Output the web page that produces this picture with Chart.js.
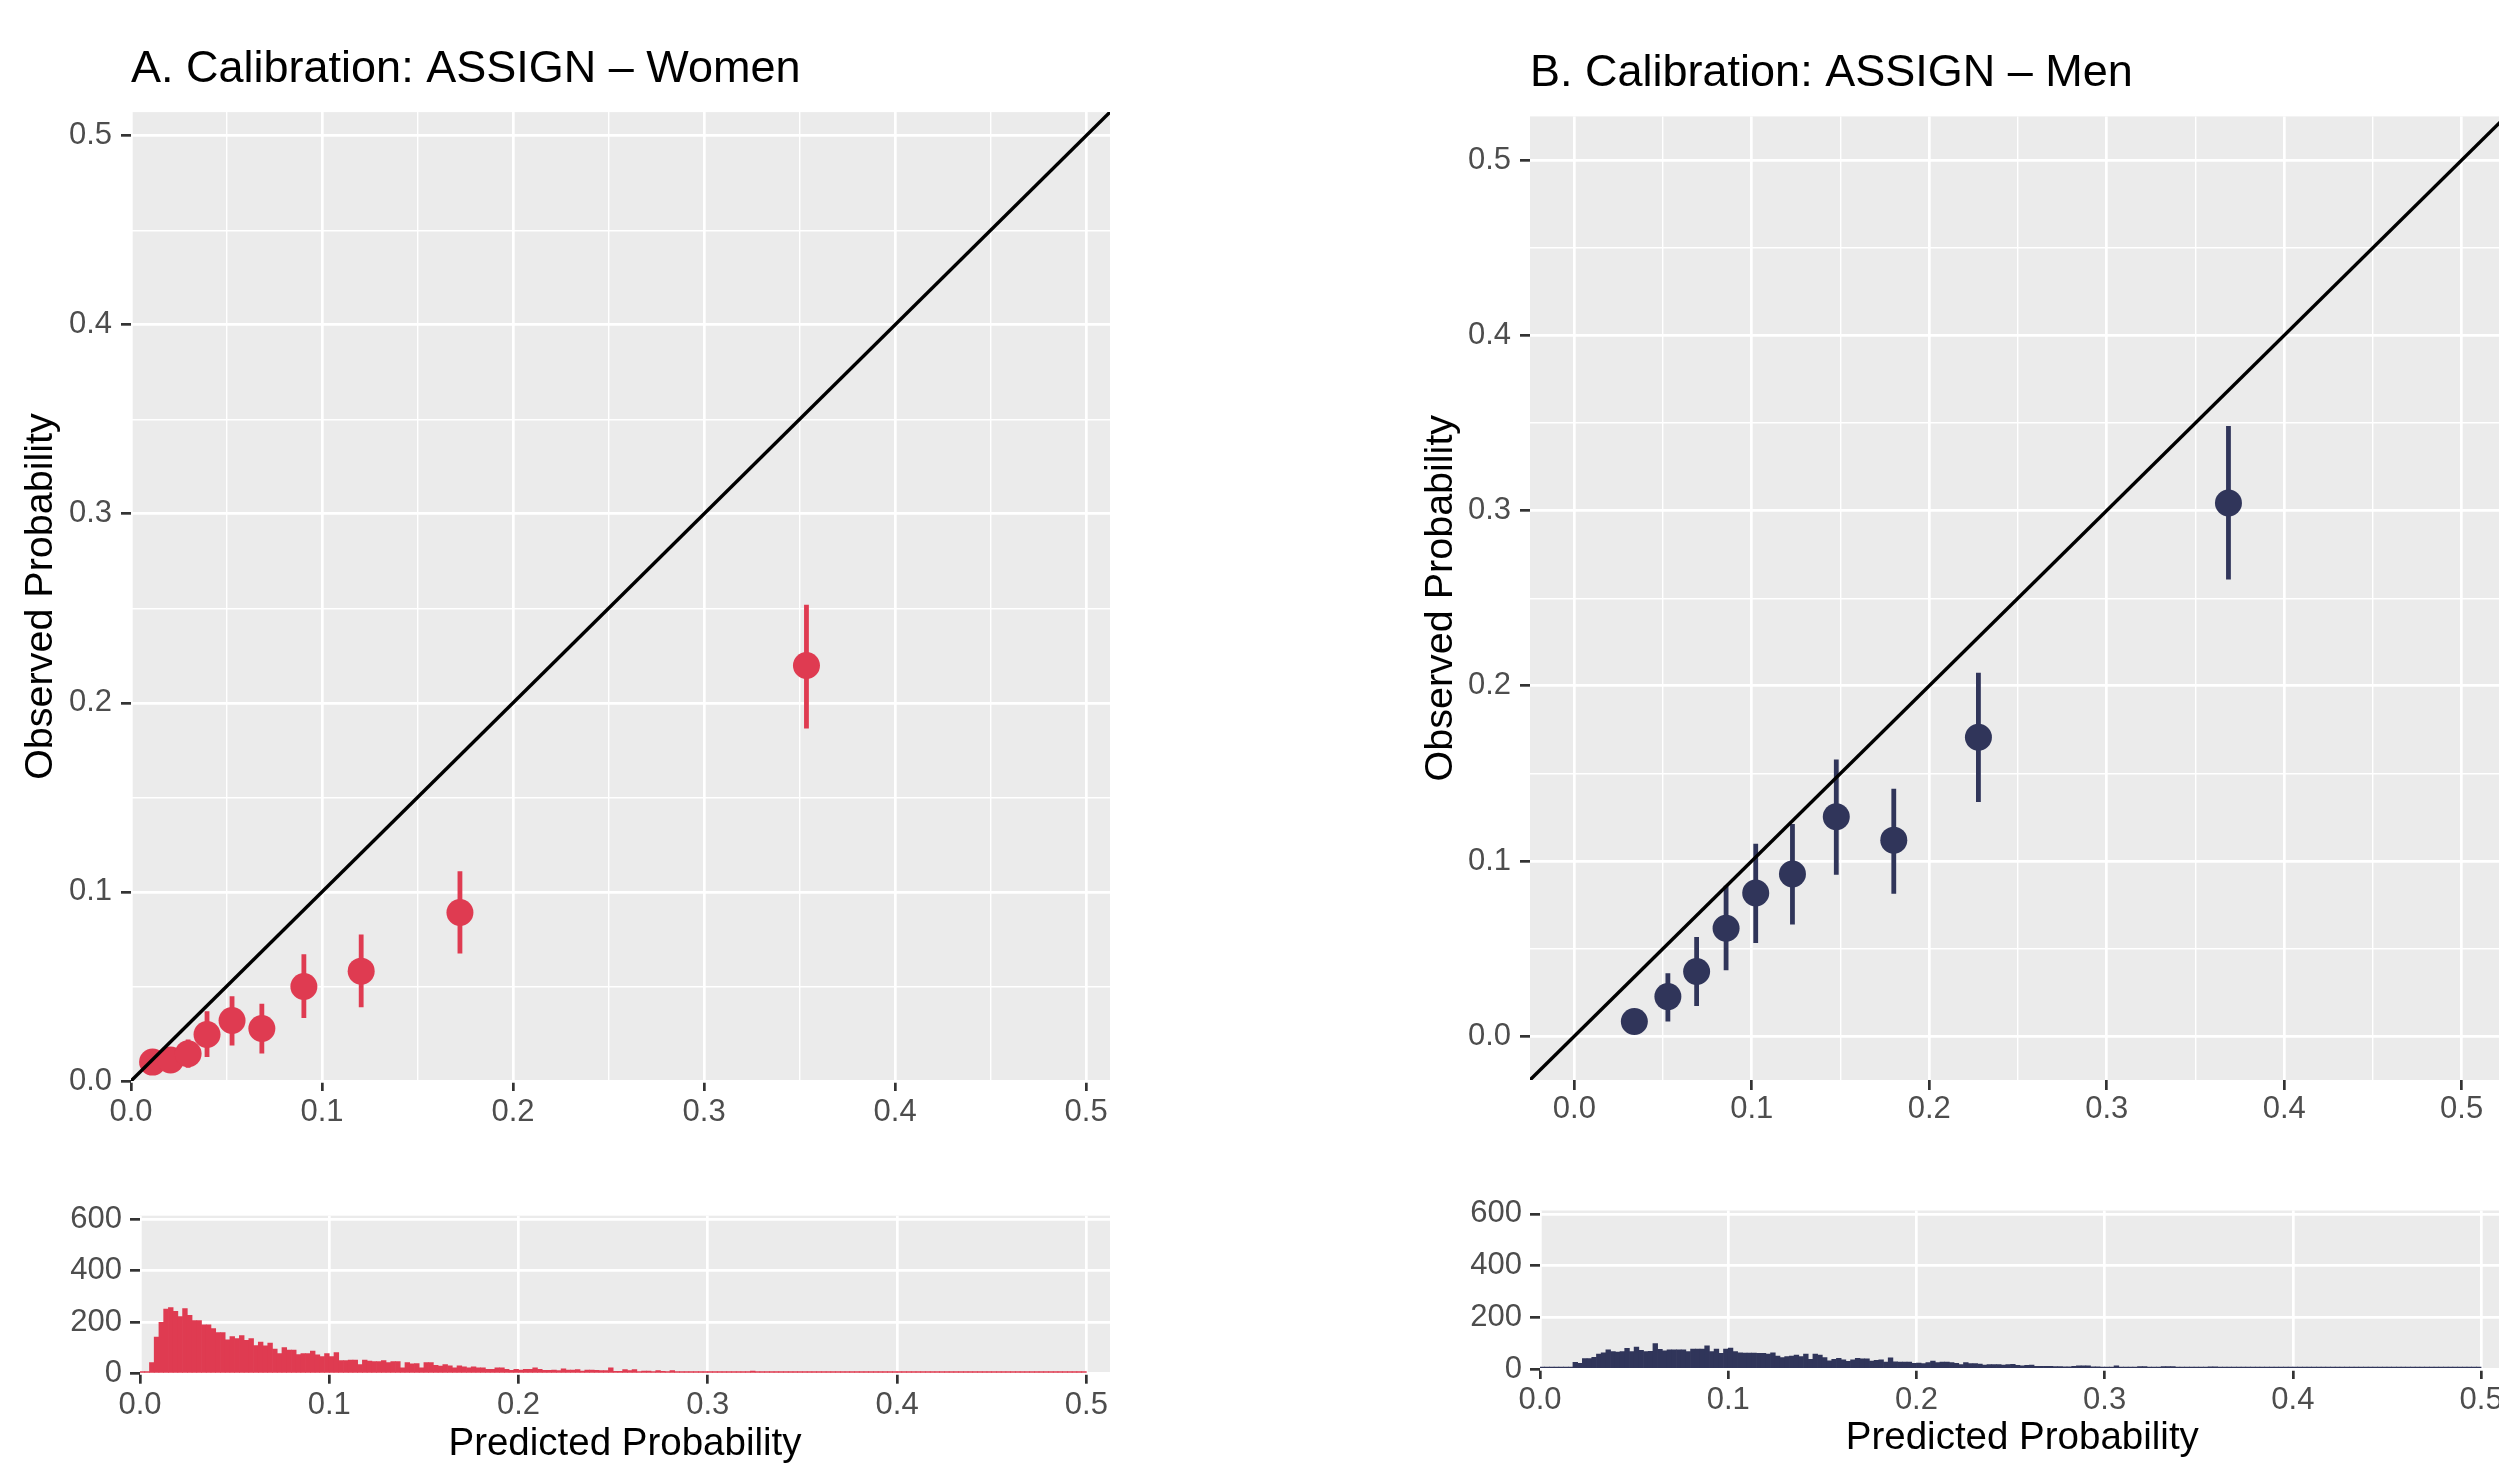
<!DOCTYPE html>
<html lang="en">
<head>
  <meta charset="UTF-8" />
  <title>Calibration: ASSIGN</title>
  <script src="https://cdn.jsdelivr.net/npm/chart.js"></script>
  <style>
    html, body { margin: 0; padding: 0; width: 2499px; height: 1467px; overflow: hidden; background: #fff; }
    .box { position: absolute; }
  </style>
</head>
<body>

<div class="box" style="left:0;top:0;width:1250px;height:1150px"><canvas id="calA"></canvas></div>
<div class="box" style="left:1250px;top:0;width:1300px;height:1150px"><canvas id="calB"></canvas></div>
<div class="box" style="left:0;top:1150px;width:1250px;height:317px"><canvas id="histA"></canvas></div>
<div class="box" style="left:1250px;top:1150px;width:1300px;height:317px"><canvas id="histB"></canvas></div>

<script>
// calibration points, women
const predA = [0.0113, 0.0207, 0.0299, 0.0398, 0.0529, 0.0685, 0.0905, 0.1205, 0.1722, 0.3536];
const obsA  = [0.0100, 0.0111, 0.0144, 0.0246, 0.0320, 0.0278, 0.0500, 0.0581, 0.0891, 0.2198];
const loA   = [0.0060, 0.0070, 0.0070, 0.0127, 0.0188, 0.0146, 0.0333, 0.0390, 0.0674, 0.1864];
const hiA   = [0.0140, 0.0160, 0.0220, 0.0369, 0.0448, 0.0408, 0.0670, 0.0775, 0.1109, 0.2519];

// calibration points, men
const predB = [0.0338, 0.0527, 0.0689, 0.0855, 0.1022, 0.1229, 0.1476, 0.1800, 0.2277, 0.3686];
const obsB  = [0.0084, 0.0226, 0.0369, 0.0616, 0.0817, 0.0926, 0.1253, 0.1119, 0.1706, 0.3043];
const loB   = [0.0030, 0.0084, 0.0172, 0.0377, 0.0532, 0.0637, 0.0922, 0.0813, 0.1337, 0.2607];
const hiB   = [0.0140, 0.0360, 0.0566, 0.0859, 0.1098, 0.1211, 0.1580, 0.1412, 0.2075, 0.3483];

// histogram counts, bins of width 0.0025 from 0 to 0.5
const BIN_W = 0.0025;
const countsA = [
  3,5,43,142,199,251,257,242,222,253, 226,206,206,190,190,175,160,160,131,144,
  136,148,129,136,109,123,108,119,96,78, 101,92,92,74,78,78,88,73,66,78,
  66,82,51,51,53,53,35,53,49,47, 47,51,43,47,47,23,43,38,39,23,
  43,43,32,30,35,31,23,31,27,23, 27,23,23,17,17,23,23,17,13,17,
  14,17,17,23,17,13,13,14,12,19, 14,14,16,10,14,14,13,12,12,23,
  9,9,16,12,16,8,10,10,8,12, 9,6,12,5,8,8,8,6,4,4,
  4,4,2,6,6,2,2,6,2,10, 2,8,2,2,2,2,5,2,6,6,
  6,6,6,8,2,2,5,5,5,5, 5,1,1,5,5,1,5,1,1,5,
  1,1,1,1,4,1,1,1,1,1, 1,1,1,1,1,1,3,1,1,1,
  1,1,3,1,3,1,1,1,1,1, 1,3,1,1,1,1,1,1,1,1
];
const countsB = [
  0,0,0,0,0,0,5,26,22,40, 40,45,58,63,74,67,65,67,80,67,
  85,72,67,68,98,76,70,74,74,74, 74,67,77,77,77,90,67,77,61,77,
  81,67,63,62,62,62,61,61,58,63, 50,44,48,50,54,48,58,37,58,54,
  44,32,37,41,35,30,35,41,39,39, 31,34,35,27,43,28,27,27,27,22,
  23,21,25,31,25,27,27,25,22,17, 25,21,21,19,15,17,17,17,15,17,
  18,14,12,14,15,10,10,10,10,9, 9,8,8,10,12,12,12,8,8,6,
  4,4,12,6,6,6,6,9,9,5, 5,5,9,9,9,6,6,5,5,5,
  4,4,8,8,6,6,6,6,6,6, 6,6,6,6,5,5,5,5,5,4,
  1,1,6,6,3,3,3,3,6,6, 3,3,3,3,6,6,6,3,3,6,
  3,3,3,3,6,1,1,1,1,1, 1,1,1,1,1,1,1,1,1,1
];

const MAIN_TICKS = [0, 0.05, 0.1, 0.15, 0.2, 0.25, 0.3, 0.35, 0.4, 0.45, 0.5];
const HIST_X_TICKS = [0, 0.1, 0.2, 0.3, 0.4, 0.5];
const HIST_Y_TICKS = [0, 200, 400, 600];
const IDENTITY = [-0.1, 0.6];

const RED = '#DF3B51';
const NAVY = '#30355A';
const FONT = "'Liberation Sans', Arial, Helvetica, sans-serif";

Chart.defaults.font.family = FONT;

// grey ggplot-style panel
const panelBg = {
  id: 'panelBg',
  beforeDraw(chart) {
    const { ctx, chartArea: a } = chart;
    ctx.save();
    ctx.fillStyle = '#EBEBEB';
    ctx.fillRect(a.left, a.top, a.right - a.left, a.bottom - a.top);
    ctx.restore();
  }
};

const isMajor = v => Math.abs(v * 10 - Math.round(v * 10)) < 1e-6;

function calAxis(min, max, pad, opts) {
  return Object.assign({
    type: 'linear', min: min, max: max,
    afterBuildTicks: s => { s.ticks = MAIN_TICKS.map(v => ({ value: v })); },
    grid: {
      color: '#FFFFFF',
      lineWidth: c => (c.tick && isMajor(c.tick.value)) ? 2.7 : 1.4,
      tickLength: 10,
      tickWidth: 2.7,
      tickColor: c => (c.tick && isMajor(c.tick.value)) ? '#333333' : 'rgba(0,0,0,0)'
    },
    border: { display: false },
    ticks: {
      color: '#4D4D4D', font: { size: 31 }, padding: pad,
      autoSkip: false, maxRotation: 0,
      callback: v => isMajor(v) ? v.toFixed(1) : ''
    }
  }, opts);
}

function calChart(id, title, titlePad, pred, obs, lo, hi, color, lim, xH, yW, leftPad, rightPad, xPad) {
  const bars = [];
  pred.forEach((p, i) => {
    bars.push({ x: p, y: lo[i] }, { x: p, y: hi[i] }, { x: p, y: null });
  });
  return new Chart(document.getElementById(id), {
    type: 'scatter',
    data: {
      datasets: [
        {
          data: IDENTITY.map(v => ({ x: v, y: v })),
          showLine: true, borderColor: '#000', borderWidth: 3.4,
          pointRadius: 0, clip: 0, order: 0
        },
        {
          data: pred.map((p, i) => ({ x: p, y: obs[i] })),
          pointRadius: 13.5, backgroundColor: color, borderWidth: 0, order: 1
        },
        {
          data: bars, showLine: true, spanGaps: false,
          borderColor: color, borderWidth: 4.8, borderCapStyle: 'butt',
          pointRadius: 0, order: 2
        }
      ]
    },
    options: {
      responsive: true, maintainAspectRatio: false,
      animation: false, events: [],
      layout: { padding: { left: leftPad, right: rightPad, top: 0, bottom: 0 } },
      plugins: {
        legend: { display: false },
        tooltip: { enabled: false },
        title: {
          display: true, text: title, align: 'start', fullSize: false,
          color: '#000', font: { size: 45, weight: 'normal' },
          padding: titlePad
        }
      },
      scales: {
        x: calAxis(lim[0], lim[1], xPad, { afterFit: s => { s.height = xH; } }),
        y: calAxis(lim[0], lim[1], 9, {
          afterFit: s => { s.width = yW; },
          title: { display: true, text: 'Observed Probability', color: '#000',
                   font: { size: 39.5 }, padding: { top: 0, bottom: 0 } }
        })
      }
    },
    plugins: [panelBg]
  });
}

function histChart(id, counts, color, xH, yW, topPad, rightPad, titleBottom) {
  return new Chart(document.getElementById(id), {
    type: 'bar',
    data: {
      datasets: [{
        data: counts.map((c, i) => ({ x: (i + 0.5) * BIN_W, y: c })),
        backgroundColor: color, borderWidth: 0,
        barPercentage: 1, categoryPercentage: 1, grouped: false,
        minBarLength: 2
      }]
    },
    options: {
      responsive: true, maintainAspectRatio: false,
      animation: false, events: [],
      layout: { padding: { left: 0, right: rightPad, top: topPad, bottom: 0 } },
      plugins: { legend: { display: false }, tooltip: { enabled: false } },
      scales: {
        x: {
          type: 'linear', min: 0, max: 0.5125, offset: false,
          afterBuildTicks: s => { s.ticks = HIST_X_TICKS.map(v => ({ value: v })); },
          afterFit: s => { s.height = xH; },
          grid: { color: '#FFFFFF', lineWidth: 2.7, offset: false,
                  tickLength: 10, tickWidth: 2.7, tickColor: '#333333' },
          border: { display: false },
          ticks: { color: '#4D4D4D', font: { size: 31 }, padding: 3,
                   autoSkip: false, maxRotation: 0, callback: v => v.toFixed(1) },
          title: { display: true, text: 'Predicted Probability', color: '#000',
                   font: { size: 38.5 }, padding: { top: 0, bottom: titleBottom } }
        },
        y: {
          min: 0, max: 613,
          afterBuildTicks: s => { s.ticks = HIST_Y_TICKS.map(v => ({ value: v })); },
          afterFit: s => { s.width = yW; },
          grid: { color: '#FFFFFF', lineWidth: 2.7,
                  tickLength: 10, tickWidth: 2.7, tickColor: '#333333' },
          border: { display: false },
          ticks: { color: '#4D4D4D', font: { size: 31 }, padding: 8, autoSkip: false }
        }
      }
    },
    plugins: [panelBg]
  });
}

calChart('calA', 'A. Calibration: ASSIGN \u2013 Women', { top: 43, bottom: 15.1 },
  predA, obsA, loA, hiA, RED, [0, 0.5125], 69, 114, 17, 140, 3);
calChart('calB', 'B. Calibration: ASSIGN \u2013 Men', { top: 47, bottom: 15.4 },
  predB, obsB, loB, hiB, NAVY, [-0.025, 0.525], 70, 113, 167, 44, 1);

histChart('histA', countsA, RED, 93.3, 140, 65.7, 140, 0);
histChart('histB', countsB, NAVY, 98, 290, 60.5, 45.4, 6);
</script>
</body>
</html>
